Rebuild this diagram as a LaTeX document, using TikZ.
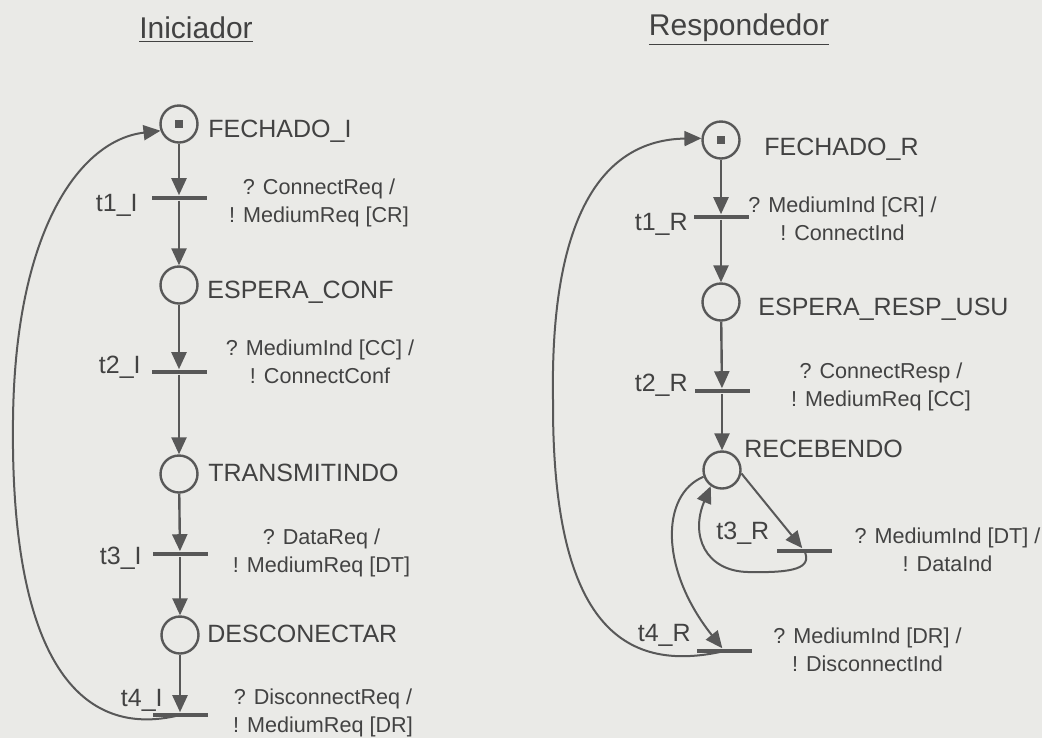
\documentclass[tikz,border=0pt]{standalone}
\usepackage{fontspec}
\setmainfont{Liberation Sans}
\usetikzlibrary{arrows.meta}
\definecolor{bgc}{RGB}{234,234,231}
\definecolor{lnc}{RGB}{88,88,88}
\definecolor{txc}{RGB}{66,66,66}
\tikzset{
  place/.style={circle, draw=lnc, line width=1.2pt, minimum size=18.5pt, inner sep=0pt},
  trans/.style={rectangle, fill=lnc, minimum width=27.5pt, minimum height=2.4pt, inner sep=0pt},
  token/.style={rectangle, fill=lnc, minimum size=4pt, inner sep=0pt},
  flow/.style={draw=lnc, line width=1.2pt, -{Triangle[length=8.5pt,width=7.5pt]}},
  retarc/.style={draw=lnc, line width=1pt, -{Triangle[length=8.5pt,width=7.5pt]}},
  pname/.style={text=txc, inner sep=0pt, font=\fontsize{12.5}{15}\selectfont, anchor=base west},
  tname/.style={text=txc, inner sep=0pt, font=\fontsize{12.5}{15}\selectfont, anchor=base east},
  cond/.style={text=txc, inner sep=0pt, align=center, font=\fontsize{10.8}{14}\selectfont},
  colhead/.style={text=txc, inner sep=0pt, font=\fontsize{15}{18}\selectfont, anchor=base},
}
\begin{document}
\begin{tikzpicture}[x=0.5pt,y=0.5pt,yscale=-1,xscale=1]
%set diagram size 1042 x 738
\path[fill=bgc] (0,0) rectangle (1042,738);

% Text Node
\node[colhead] (hI) at (196,38) {\underline{Iniciador}};
\node[colhead] (hR) at (739,35) {\underline{Respondedor}};

%Initiator net
\node[place] (FI) at (179,124) {};
\node[token] (tkI) at (FI.center) {};
\node[pname] (lFI) at (208,137) {FECHADO\_I};
\node[trans] (t1I) at (179,198) {};
\node[tname] (nt1I) at (138,211) {t1\_I};
\node[cond] (ct1I) at (319,202.5) {? ConnectReq /\\! MediumReq [CR]};
\node[place] (EC) at (179,285) {};
\node[pname] (lEC) at (207,298) {ESPERA\_CONF};
\node[trans] (t2I) at (179,372) {};
\node[tname] (nt2I) at (141,373) {t2\_I};
\node[cond] (ct2I) at (320,362) {? MediumInd [CC] /\\! ConnectConf};
\node[place] (TR) at (179,474) {};
\node[pname] (lTR) at (208,481) {TRANSMITINDO};
\node[trans] (t3I) at (180,554) {};
\node[tname] (nt3I) at (142,564) {t3\_I};
\node[cond] (ct3I) at (321.5,553) {? DataReq /\\! MediumReq [DT]};
\node[place] (DE) at (180,635) {};
\node[pname] (lDE) at (207,642) {DESCONECTAR};
\node[trans] (t4I) at (180,715) {};
\node[tname] (nt4I) at (163,706) {t4\_I};
\node[cond] (ct4I) at (323,713) {? DisconnectReq /\\! MediumReq [DR]};

\draw[flow] (FI) -- (t1I);
\draw[flow] (t1I) -- (EC);
\draw[flow] (EC) -- (t2I);
\draw[flow] (t2I) -- (TR);
\draw[flow] (TR) -- (t3I);
\draw[flow] (t3I) -- (DE);
\draw[flow] (DE) -- (t4I);
\draw[retarc] (t4I.center) .. controls (80,740) and (10,660) .. (13,420) .. controls (15,230) and (80,140) .. (FI.200);

%Responder net
\node[place] (FR) at (721,140) {};
\node[token] (tkR) at (FR.center) {};
\node[pname] (lFR) at (764,155) {FECHADO\_R};
\node[trans] (t1R) at (721,217) {};
\node[tname] (nt1R) at (688,230) {t1\_R};
\node[cond] (ct1R) at (842.5,219) {? MediumInd [CR] /\\! ConnectInd};
\node[place] (ER) at (721,302) {};
\node[pname] (lER) at (758,315) {ESPERA\_RESP\_USU};
\node[trans] (t2R) at (722,391) {};
\node[tname] (nt2R) at (688,391) {t2\_R};
\node[cond] (ct2R) at (881,387) {? ConnectResp /\\! MediumReq [CC]};
\node[place] (RB) at (722,470) {};
\node[pname] (lRB) at (744,457) {RECEBENDO};
\node[trans] (t3R) at (804.5,551) {};
\node[tname, anchor=base west] (nt3R) at (716,539) {t3\_R};
\node[cond] (ct3R) at (947.5,550) {? MediumInd [DT] /\\! DataInd};
\node[trans] (t4R) at (724.5,651) {};
\node[tname] (nt4R) at (691,641) {t4\_R};
\node[cond] (ct4R) at (867.5,650) {? MediumInd [DR] /\\! DisconnectInd};

\draw[flow] (FR) -- (t1R);
\draw[flow] (t1R) -- (ER);
\draw[flow] (ER) -- (t2R);
\draw[flow] (t2R) -- (RB);
\draw[retarc] (RB.350) -- (t3R);
\draw[retarc] (t3R.center) .. controls (812,568) and (795,573) .. (748,572) .. controls (705,571) and (690,535) .. (RB.235);
\draw[retarc] (RB.200) .. controls (660,495) and (660,570) .. (t4R);
\draw[retarc] (t4R.center) .. controls (620,675) and (552,620) .. (553,400) .. controls (550,220) and (600,140) .. (FR.175);

\end{tikzpicture}
\end{document}
